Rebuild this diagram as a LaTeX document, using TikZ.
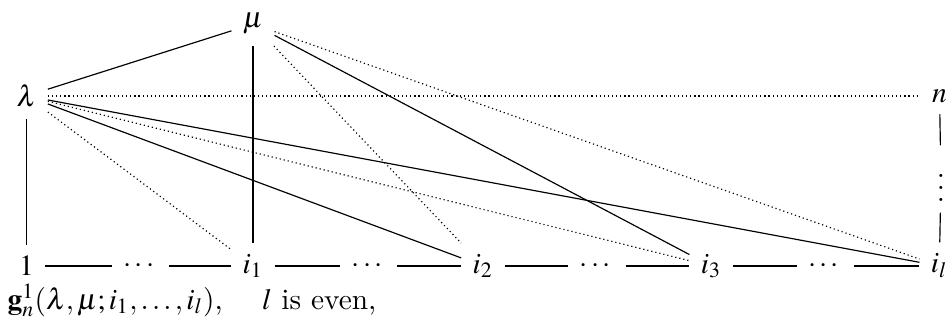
\documentclass[tikz,border=0pt]{standalone}
\usepackage{amsmath}
\usepackage{mathptmx}
\usepackage{tikz}
\usetikzlibrary{calc}

\tikzset{
  lbl/.style={inner sep=3.7pt},
  weak/.style={densely dotted},
}

\begin{document}
\begin{tikzpicture}[x=0.34pt, y=-0.34pt]
  \useasboundingbox (0,0) rectangle (948,322);

  % --- top vertices ---
  \node[lbl] (mu) at (253,24) {$\mu$};
  \node[lbl] (lam) at (26.5,96) {$\lambda$};
  \node[lbl] (nn) at (939.5,96) {$n$};
  \node[lbl] (vd) at (941,179) {$\vdots$};

  % --- bottom row ---
  \node[lbl] (one) at (26.5,266) {$1$};
  \node[lbl] (dA) at (140.6,266) {$\cdots$};
  \node[lbl] (ione) at (253,266) {$i_1$};
  \node[lbl] (dB) at (368.8,266) {$\cdots$};
  \node[lbl] (itwo) at (482.9,266) {$i_2$};
  \node[lbl] (dC) at (597,266) {$\cdots$};
  \node[lbl] (ithree) at (711.1,266) {$i_3$};
  \node[lbl] (dD) at (825.2,266) {$\cdots$};
  \node[lbl] (il) at (939.3,266) {$i_l$};

  \draw (one) -- (dA);
  \draw (dA) -- (ione);
  \draw (ione) -- (dB);
  \draw (dB) -- (itwo);
  \draw (itwo) -- (dC);
  \draw (dC) -- (ithree);
  \draw (ithree) -- (dD);
  \draw (dD) -- (il);

  % right column
  \draw (nn) -- (vd);
  \draw (vd) -- (il);

  % edges from lambda
  \draw (lam) -- (mu);
  \draw[weak] (lam) -- (nn);
  \draw (lam) -- (one);
  \draw[weak] (lam) -- (ione);
  \draw (lam) -- (itwo);
  \draw[weak] (lam) -- (ithree);
  \draw (lam) -- (il);

  % edges from mu
  \draw (mu) -- (ione);
  \draw[weak] (mu) -- (itwo);
  \draw (mu) -- (ithree);
  \draw[weak] (mu) -- (il);

  % caption
  \node[anchor=base west, inner sep=0pt] (cap) at (7,309)
    {$\mathbf{g}_n^1(\lambda, \mu; i_1, \ldots, i_l)$, \quad $l$ is even,};
\end{tikzpicture}
\end{document}
